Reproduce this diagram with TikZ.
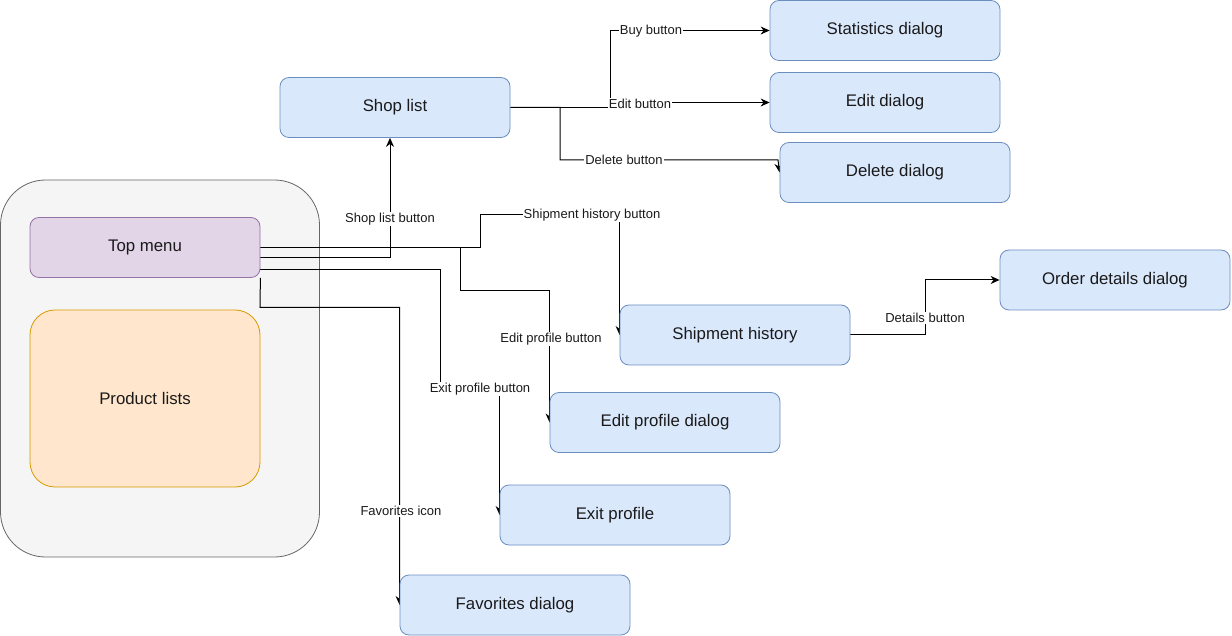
\documentclass[tikz,border=0pt]{standalone}
\usepackage{fontspec}
\setmainfont{Liberation Sans}
\usetikzlibrary{arrows.meta}
\definecolor{boxfill}{HTML}{DAE8FC}
\definecolor{boxline}{HTML}{6C8EBF}
\definecolor{menufill}{HTML}{E1D5E7}
\definecolor{menuline}{HTML}{9673A6}
\definecolor{prodfill}{HTML}{FFE6CC}
\definecolor{prodline}{HTML}{D79B00}
\definecolor{contfill}{HTML}{F5F5F5}
\definecolor{contline}{HTML}{666666}
\definecolor{txt}{HTML}{1A1A1A}
\pgfdeclarelayer{bottom}
\pgfdeclarelayer{background}
\pgfsetlayers{bottom,background,main}
\tikzset{
  dlgbox/.style={draw=boxline, fill=boxfill, rounded corners=9pt, minimum width=230pt, minimum height=60pt, inner sep=0pt, line width=0.8pt, text=txt, font=\fontsize{16.8}{20}\selectfont},
  lbl/.style={fill=white, inner sep=1pt, text=txt, font=\fontsize{13}{15}\selectfont},
  conn/.style={draw=black, line width=1pt, -{Stealth[length=9pt,width=8pt]}},
}
\begin{document}
\begin{tikzpicture}[x=1pt,y=-1pt]
\useasboundingbox (0,0) rectangle (1232,636);
% container
\begin{pgfonlayer}{bottom}
\node[draw=contline, fill=contfill, rounded corners=45pt, minimum width=319pt, minimum height=377pt, line width=0.8pt] (container) at (160,368.5) {};
\end{pgfonlayer}
\node[draw=menuline, fill=menufill, rounded corners=9pt, minimum width=230pt, minimum height=60pt, line width=0.8pt, text=txt, font=\fontsize{16.8}{20}\selectfont] (top) at (145,247.5) {Top menu};
\node[draw=prodline, fill=prodfill, rounded corners=25pt, minimum width=230pt, minimum height=177pt, line width=0.8pt, text=txt, font=\fontsize{16.8}{20}\selectfont] (prod) at (145,398.5) {Product lists};
% dialogs
\node[dlgbox] (shop) at (395,107.5) {Shop list};
\node[dlgbox] (stat) at (885,30.5) {Statistics dialog};
\node[dlgbox] (edit) at (885,102.5) {Edit dialog};
\node[dlgbox] (del) at (895,172.5) {Delete dialog};
\node[dlgbox] (order) at (1115,280) {Order details dialog};
\node[dlgbox] (ship) at (735,335) {Shipment history};
\node[dlgbox] (eprof) at (665,422.5) {Edit profile dialog};
\node[dlgbox] (exit) at (615,515) {Exit profile};
\node[dlgbox] (fav) at (515,605) {Favorites dialog};
% connectors
\begin{pgfonlayer}{background}
\draw[conn] (shop.east) -- (610,107.5) |- (stat.west);
\draw[conn] (shop.east) -- (640,107.5) -- (640,102.5) -- (edit.west);
\draw[conn] (shop.east) -| (560,160) -- (778,160) -- (del.west);
\draw[conn] ([yshift=-10.5pt]top.east) -| ([xshift=-5pt]shop.south);
\draw[conn] (top.east) -| (480,215) -| (ship.west);
\draw[conn] (top.east) -| (460,290.5) -| (eprof.west);
\draw[conn] ([yshift=-22.5pt]top.east) -| (440,389) -| (exit.west);
\draw[conn] (top.south east) -- (260,307.5) -| (fav.west);
\draw[conn] (ship.east) -| (925,280) -- (order.west);
\end{pgfonlayer}
% edge labels
\node[lbl] (lbuy) at (651,31) {Buy button};
\node[lbl] (ledit) at (640,104) {Edit button};
\node[lbl] (ldel) at (624,160) {Delete button};
\node[lbl] (lshop) at (390,219) {Shop list button};
\node[lbl] (lship) at (592,215) {Shipment history button};
\node[lbl] (leprof) at (551,339) {Edit profile button};
\node[lbl] (lexit) at (480,389) {Exit profile button};
\node[lbl] (lfav) at (401,511) {Favorites icon};
\node[lbl] (ldet) at (925,318) {Details button};
\end{tikzpicture}
\end{document}
